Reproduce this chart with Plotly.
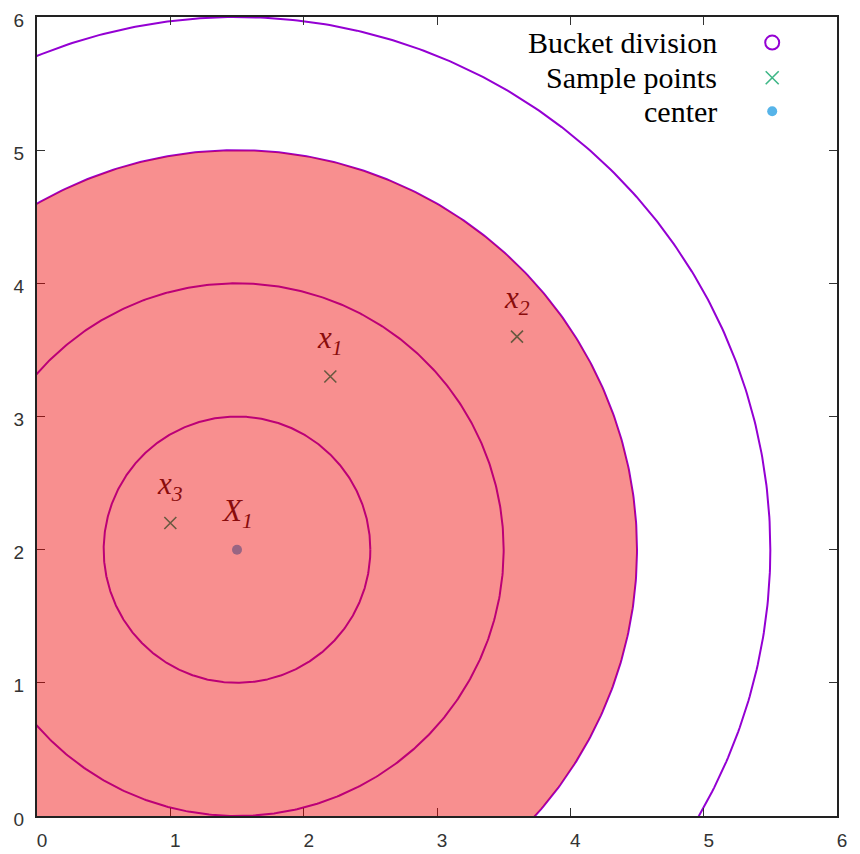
import numpy as np
import plotly.graph_objects as go

# ---- data ----
center = [1.5, 2.0]
radii = [1, 2, 3, 4]
filled_radius = 3
sample_x = [2.2, 3.6, 1.0]
sample_y = [3.3, 3.6, 2.2]
sample_labels = ["<i>x<sub>1</sub></i>", "<i>x<sub>2</sub></i>", "<i>x<sub>3</sub></i>"]
center_label = "<i>X<sub>1</sub></i>"
legend_names = ["Bucket division", "Sample points", "center"]
tick_vals = [0, 1, 2, 3, 4, 5, 6]

PURPLE = "#9400D3"
GREEN = "#009E73"
BLUE = "#56B4E9"
FILL = "rgba(238,0,0,0.44)"

fig = go.Figure()

# circles (bucket divisions)
theta = np.linspace(0, 2 * np.pi, 721)
for r in radii:
    fig.add_trace(go.Scatter(
        x=center[0] + r * np.cos(theta), y=center[1] + r * np.sin(theta),
        mode="lines", line=dict(color=PURPLE, width=2),
        showlegend=False, hoverinfo="skip"))

# sample points
fig.add_trace(go.Scatter(x=sample_x, y=sample_y, mode="markers",
                         marker=dict(symbol="x-thin", size=12, color=GREEN,
                                     line=dict(color=GREEN, width=1.6)),
                         showlegend=False))
# center
fig.add_trace(go.Scatter(x=[center[0]], y=[center[1]], mode="markers",
                         marker=dict(symbol="circle", size=10, color=BLUE),
                         showlegend=False))

# filled transparent disc on top
fig.add_shape(type="circle", xref="x", yref="y",
              x0=center[0] - filled_radius, x1=center[0] + filled_radius,
              y0=center[1] - filled_radius, y1=center[1] + filled_radius,
              fillcolor=FILL, line=dict(width=0), layer="above")

# point labels
label_font = dict(family="Liberation Serif", size=31, color="#8a0c0c")
for xv, yv, t in zip(sample_x, sample_y, sample_labels):
    fig.add_annotation(x=xv, y=yv, text=t, showarrow=False, yshift=37,
                       font=label_font, xref="x", yref="y")
fig.add_annotation(x=center[0], y=center[1], text=center_label, showarrow=False,
                   yshift=37, font=label_font, xref="x", yref="y")

# custom legend (text right-aligned, symbol to its right)
leg_y = [0.968, 0.924, 0.882]
leg_text_x = 0.853
leg_sym_x = 0.919
for name, yy in zip(legend_names, leg_y):
    fig.add_annotation(x=leg_text_x, y=yy, xref="paper", yref="paper", text=name,
                       showarrow=False, xanchor="right", yanchor="middle",
                       font=dict(family="Liberation Serif", size=30, color="black"))
fig.add_trace(go.Scatter(x=[leg_sym_x], y=[leg_y[0]], xaxis="x2", yaxis="y2", mode="markers",
                         marker=dict(symbol="circle-open", size=14, color=PURPLE,
                                     line=dict(color=PURPLE, width=2)),
                         showlegend=False, hoverinfo="skip"))
fig.add_trace(go.Scatter(x=[leg_sym_x], y=[leg_y[1]], xaxis="x2", yaxis="y2", mode="markers",
                         marker=dict(symbol="x-thin", size=13, color="#3fb787",
                                     line=dict(color="#3fb787", width=1.6)),
                         showlegend=False, hoverinfo="skip"))
fig.add_trace(go.Scatter(x=[leg_sym_x], y=[leg_y[2]], xaxis="x2", yaxis="y2", mode="markers",
                         marker=dict(symbol="circle", size=10, color=BLUE),
                         showlegend=False, hoverinfo="skip"))

axis_common = dict(range=[0, 6], tickvals=tick_vals, ticks="inside", ticklen=8,
                   tickwidth=1, tickcolor="#333", showline=True, linecolor="#222",
                   linewidth=2, mirror="ticks", showgrid=False, zeroline=False,
                   tickfont=dict(family="Liberation Sans", size=19, color="#333"))

fig.update_layout(
    width=860, height=854,
    margin=dict(l=37, r=23, t=17, b=38, autoexpand=False),
    paper_bgcolor="white", plot_bgcolor="white",
    showlegend=False,
    xaxis=dict(**axis_common, ticklabelstandoff=6, ticklabelshift=5),
    yaxis=dict(**axis_common, ticklabelstandoff=7, ticklabelshift=3),
    xaxis2=dict(range=[0, 1], overlaying="x", visible=False, fixedrange=True),
    yaxis2=dict(range=[0, 1], overlaying="y", visible=False, fixedrange=True),
)

fig.write_html("out.html")
